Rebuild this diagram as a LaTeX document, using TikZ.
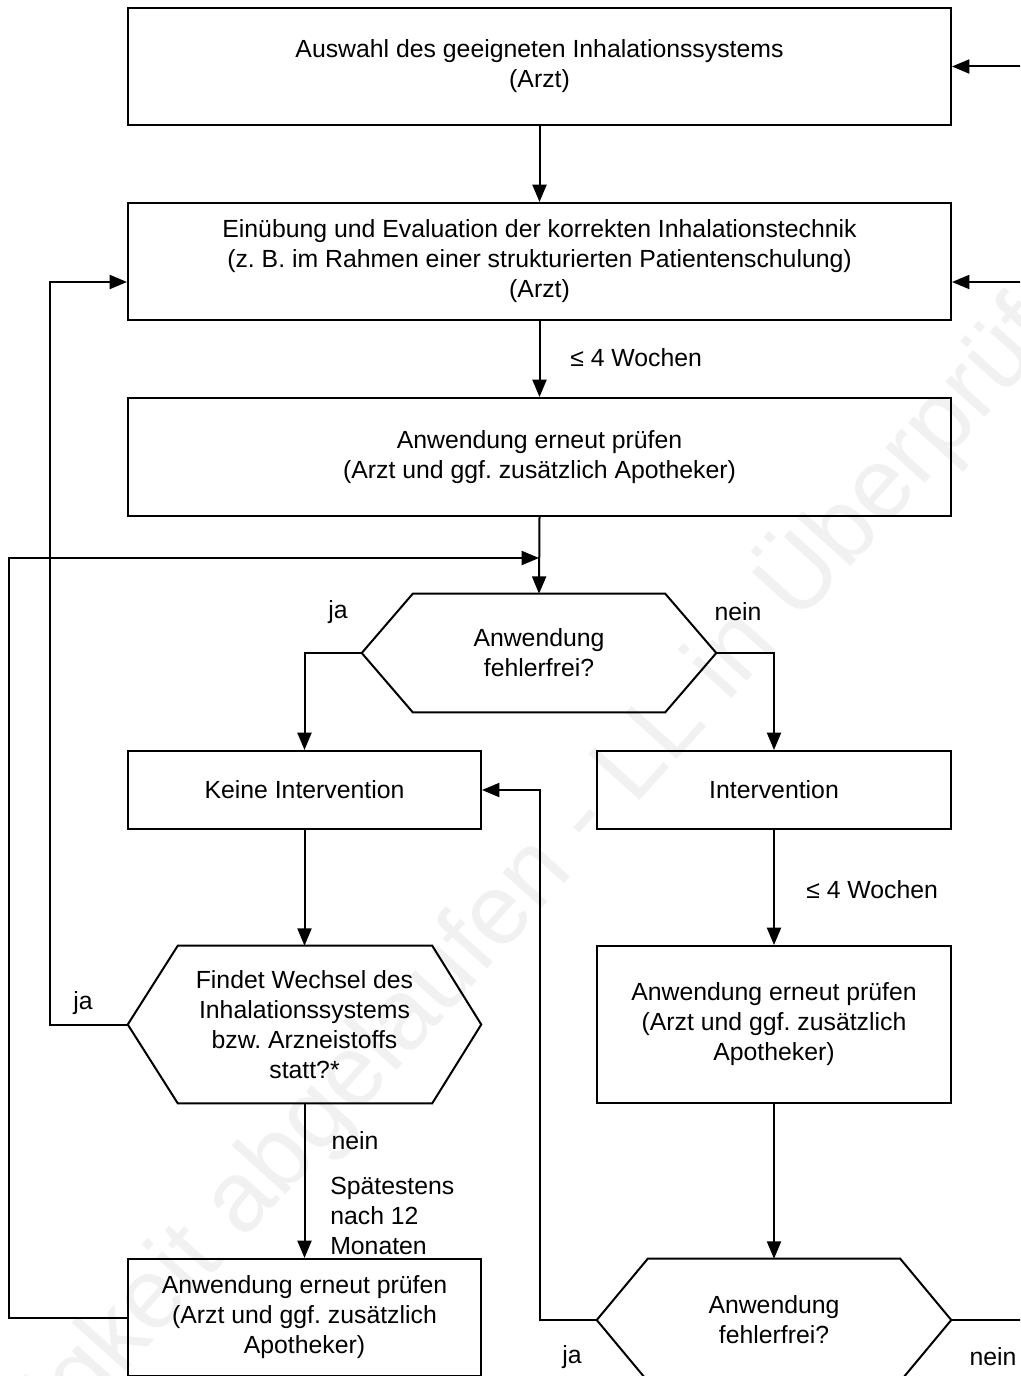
\documentclass[tikz,border=0pt]{standalone}
\usepackage{fontspec}
\setmainfont{Liberation Sans}
\usetikzlibrary{arrows.meta,calc}
\begin{document}
\frenchspacing
\begin{tikzpicture}[x=0.75pt,y=-0.75pt,
  txt/.style={font=\fontsize{18.6pt}{22.5pt}\selectfont},
  box/.style={txt,draw,line width=1.5pt,align=center,inner sep=0pt},
  hexn/.style={txt,align=center,inner sep=0pt},
  lbl/.style={txt,inner sep=0pt,align=left},
  ln/.style={line width=1.5pt},
  arr/.style={line width=1.5pt,-{Triangle[width=10.5pt,length=13pt]}}]
\useasboundingbox (0,0) rectangle (1020,1376);
\fill[white] (0,0) rectangle (1020,1376);
\clip (0,0) rectangle (1020,1376);
% watermark
\node[text=gray!11,font=\fontsize{75pt}{80pt}\selectfont,rotate=48] (wm) at (535,870) {Gültigkeit abgelaufen - LL in Überprüfung};
% boxes
\node[box,minimum width={823*0.75pt},minimum height={117*0.75pt}] (b1) at (539.5,66.5) {Auswahl des geeigneten Inhalationssystems\\(Arzt)};
\node[box,minimum width={823*0.75pt},minimum height={117*0.75pt}] (b2) at (539.5,261.5) {Einübung und Evaluation der korrekten Inhalationstechnik\\(z. B. im Rahmen einer strukturierten Patientenschulung)\\(Arzt)};
\node[box,minimum width={823*0.75pt},minimum height={118*0.75pt}] (b3) at (539.5,457) {Anwendung erneut prüfen\\(Arzt und ggf. zusätzlich Apotheker)};
\node[box,minimum width={353*0.75pt},minimum height={78*0.75pt}] (k) at (304.5,790) {Keine Intervention};
\node[box,minimum width={354*0.75pt},minimum height={78*0.75pt}] (i) at (774,790) {Intervention};
\node[box,minimum width={354*0.75pt},minimum height={157*0.75pt}] (b6) at (774,1024.5) {Anwendung erneut prüfen\\(Arzt und ggf. zusätzlich\\Apotheker)};
\node[box,minimum width={353*0.75pt},minimum height={117*0.75pt}] (b5) at (304.5,1317.5) {Anwendung erneut prüfen\\(Arzt und ggf. zusätzlich\\Apotheker)};
% hexagons
\node[hexn,minimum width={354*0.75pt},minimum height={118*0.75pt}] (h1) at (539,653) {Anwendung\\fehlerfrei?};
\node[hexn,minimum width={353*0.75pt},minimum height={157*0.75pt}] (h2) at (304.5,1024.5) {Findet Wechsel des\\Inhalationssystems\\bzw. Arzneistoffs\\statt?*};
\node[hexn,minimum width={354*0.75pt},minimum height={122*0.75pt}] (h3) at (774,1320) {Anwendung\\fehlerfrei?};
\draw[ln] (h1.west) -- ($(h1.north west)+(51,0)$) -- ($(h1.north east)+(-51,0)$) -- (h1.east) -- ($(h1.south east)+(-51,0)$) -- ($(h1.south west)+(51,0)$) -- cycle;
\draw[ln] (h2.west) -- ($(h2.north west)+(50,0)$) -- ($(h2.north east)+(-49,0)$) -- (h2.east) -- ($(h2.south east)+(-49,0)$) -- ($(h2.south west)+(50,0)$) -- cycle;
\draw[ln] (h3.west) -- ($(h3.north west)+(51,0)$) -- ($(h3.north east)+(-51,0)$) -- (h3.east) -- ($(h3.south east)+(-51,0)$) -- ($(h3.south west)+(51,0)$) -- cycle;
% coordinates
\coordinate (m1) at (539,558);
\coordinate (r1) at (1035,66.5);
\coordinate (r2) at (1035,282);
\coordinate (r3) at (1035,1320);
% connectors
\draw[arr] (b1.south) -- (b2.north);
\draw[arr] (b2.south) -- (b3.north);
\draw[arr] (b3.south) -- (h1.north);
\draw[arr] (b5.west) -- ++(-118,0) |- (m1);
\draw[arr] (h1.west) -| (k.north);
\draw[arr] (h1.east) -| (i.north);
\draw[arr] (k.south) -- (h2.north);
\draw[arr] (h2.west) -- ++(-78,0) |- ($(b2.west)+(0,20.5)$);
\draw[arr] (h2.south) -- (b5.north);
\draw[arr] (i.south) -- (b6.north);
\draw[arr] (b6.south) -- (h3.north);
\draw[arr] (h3.west) -- ++(-57,0) |- (k.east);
\draw[ln] (h3.east) -- (r3);
\draw[arr] (r1) -- (b1.east);
\draw[arr] (r2) -- ($(b2.east)+(0,20.5)$);
% labels
\node[lbl,anchor=west] (w1) at (570,358) {≤ 4 Wochen};
\node[lbl,anchor=west] (w2) at (806,890) {≤ 4 Wochen};
\node[lbl] (ja1) at (338,612) {ja};
\node[lbl] (nein1) at (738,612) {nein};
\node[lbl] (ja2) at (83,1003) {ja};
\node[lbl] (nein2) at (355,1141) {nein};
\node[lbl,anchor=west] (sp) at (330,1216) {Spätestens\\nach 12\\Monaten};
\node[lbl] (ja3) at (572,1357) {ja};
\node[lbl] (nein3) at (993,1357) {nein};
\end{tikzpicture}
\end{document}
